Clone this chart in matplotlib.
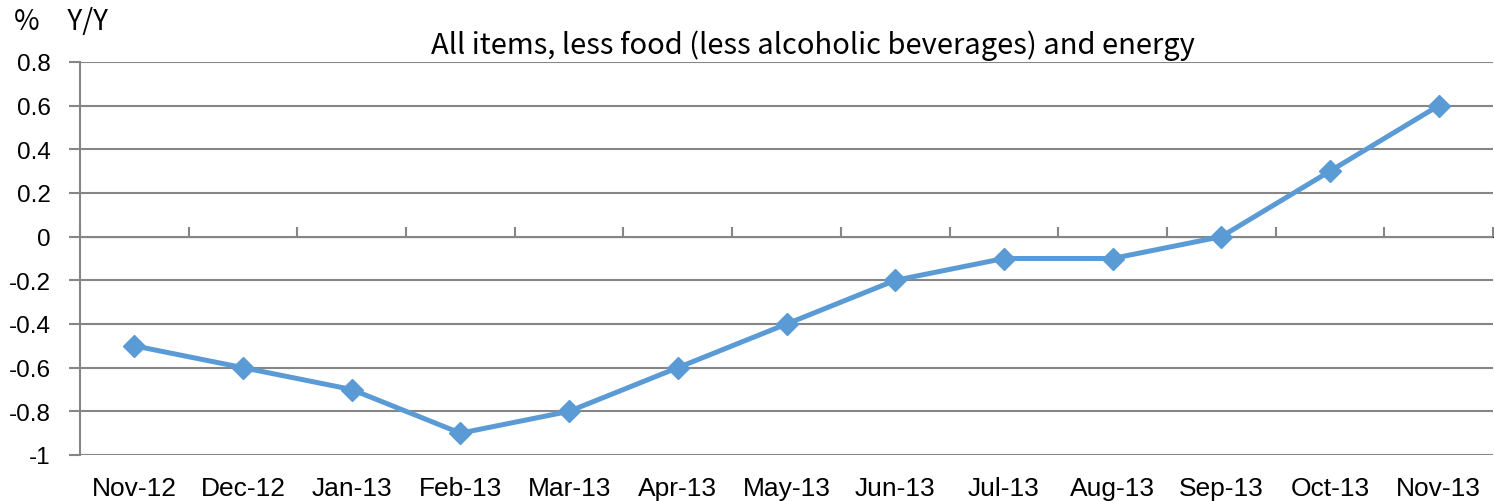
import matplotlib
matplotlib.use("Agg")
import matplotlib.pyplot as plt
import numpy as np

months = ["Nov-12", "Dec-12", "Jan-13", "Feb-13", "Mar-13", "Apr-13", "May-13",
          "Jun-13", "Jul-13", "Aug-13", "Sep-13", "Oct-13", "Nov-13"]
yoy = [-0.5, -0.6, -0.7, -0.9, -0.8, -0.6, -0.4, -0.2, -0.1, -0.1, 0.0, 0.3, 0.6]
yticks = [-1, -0.8, -0.6, -0.4, -0.2, 0, 0.2, 0.4, 0.6, 0.8]
ytick_labels = ["-1", "-0.8", "-0.6", "-0.4", "-0.2", "0", "0.2", "0.4", "0.6", "0.8"]
title = "All items, less food (less alcoholic beverages) and energy"
unit = "%\u3000Y/Y"

grid_c = "#868686"
line_c = "#5B9BD5"
plt.rcParams['font.family'] = ['Liberation Sans', 'DejaVu Sans']

fig = plt.figure(figsize=(14.94, 5.02), dpi=100)
ax = fig.add_axes([80/1494, 46/502, 1413/1494, 393/502])
x = np.arange(len(months))
ax.set_xlim(-0.5, len(months) - 0.5)
ymin, ymax = -1, 0.8
ax.set_ylim(ymin, ymax)

ax.set_yticks(yticks)
ax.set_yticklabels(ytick_labels, fontsize=17.5)
ax.grid(axis='y', color=grid_c, linewidth=1.5)
ax.set_axisbelow(True)
ax.tick_params(axis='y', length=8, width=1.5, color=grid_c, pad=13)

ax.set_xticks(x)
ax.set_xticklabels(months, fontsize=19)
ax.tick_params(axis='x', length=0, pad=15)

for s in ['top', 'right', 'bottom']:
    ax.spines[s].set_visible(False)
ax.spines['left'].set_color(grid_c)
ax.spines['left'].set_linewidth(1.5)

# category axis at zero with boundary tick marks
sec = ax.secondary_xaxis((0 - ymin) / (ymax - ymin))
sec.set_xticks(np.arange(len(months) + 1) - 0.5)
sec.set_xticklabels([])
sec.tick_params(axis='x', direction='out', length=7, width=1.5, color=grid_c)
sec.spines['bottom'].set_color(grid_c)
sec.spines['bottom'].set_linewidth(1.5)

ax.plot(x, yoy, color=line_c, linewidth=3.6, marker='D', markersize=11,
        markeredgecolor=line_c, markerfacecolor=line_c, zorder=3, clip_on=False)

fig.text(813/1494, 1 - 46/502, title, fontsize=21, ha='center', va='center',
         family=['Noto Sans CJK JP', 'DejaVu Sans'])
fig.text(14/1494, 1 - 22/502, unit, fontsize=20, ha='left', va='center',
         family=['Noto Sans CJK JP', 'DejaVu Sans'])

fig.savefig("out.png", dpi=100)
